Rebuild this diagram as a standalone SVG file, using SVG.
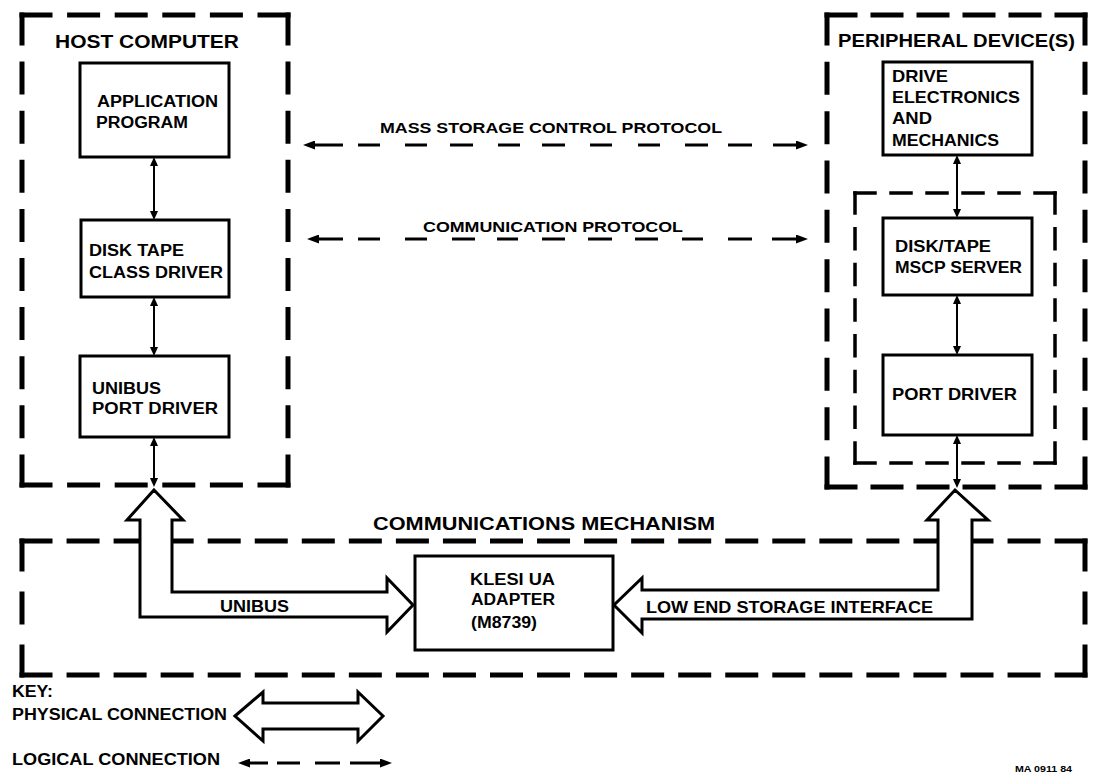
<svg xmlns="http://www.w3.org/2000/svg" width="1094" height="783" viewBox="0 0 1094 783">
<style>
.t{font-family:"Liberation Sans",Arial,sans-serif;font-weight:bold;fill:#000}
.box{fill:#fff;stroke:#000;stroke-width:3}
.d5{fill:none;stroke:#000;stroke-width:5;stroke-linecap:square}
.d3{fill:none;stroke:#000;stroke-width:3.5;stroke-linecap:square}
.conn{fill:none;stroke:#000;stroke-width:2;marker-start:url(#sa);marker-end:url(#sa)}
.logic{fill:none;stroke:#000;stroke-width:3;marker-start:url(#la);marker-end:url(#la)}
.hollow{fill:#fff;stroke:#000;stroke-width:3;stroke-linejoin:miter}
</style>
<defs>
<marker id="sa" viewBox="0 0 9 8" refX="2" refY="4" markerWidth="9" markerHeight="8" markerUnits="userSpaceOnUse" orient="auto-start-reverse"><path d="M0,0 L9,4 L0,8 z" fill="#000"/></marker>
<marker id="la" viewBox="0 0 12 9" refX="2" refY="4.5" markerWidth="12" markerHeight="9" markerUnits="userSpaceOnUse" orient="auto-start-reverse"><path d="M0,0 L12,4.5 L0,9 z" fill="#000"/></marker>
</defs>
<rect width="1094" height="783" fill="#fff"/>

<g id="host-computer">
<line class="d5" x1="22" y1="15" x2="288" y2="15" stroke-dasharray="28 19.6"/>
<line class="d5" x1="22" y1="485" x2="288" y2="485" stroke-dasharray="28 19.6"/>
<line class="d5" x1="22" y1="15" x2="22" y2="485" stroke-dasharray="28 21.1"/>
<line class="d5" x1="288" y1="15" x2="288" y2="485" stroke-dasharray="28 21.1"/>
<text class="t" x="55" y="48" font-size="18" textLength="184" lengthAdjust="spacingAndGlyphs">HOST COMPUTER</text>
</g>
<g id="application-program">
<rect class="box" x="80" y="63" width="149" height="94"/>
<text class="t" x="97" y="107" font-size="16" textLength="121" lengthAdjust="spacingAndGlyphs">APPLICATION</text>
<text class="t" x="96" y="128" font-size="16" textLength="92" lengthAdjust="spacingAndGlyphs">PROGRAM</text>
</g>
<g id="class-driver">
<rect class="box" x="81" y="220" width="148" height="77"/>
<text class="t" x="89" y="256" font-size="16" textLength="95" lengthAdjust="spacingAndGlyphs">DISK TAPE</text>
<text class="t" x="89" y="278" font-size="16" textLength="134" lengthAdjust="spacingAndGlyphs">CLASS DRIVER</text>
</g>
<g id="unibus-port-driver">
<rect class="box" x="80" y="356" width="149" height="81"/>
<text class="t" x="92" y="394" font-size="16" textLength="69" lengthAdjust="spacingAndGlyphs">UNIBUS</text>
<text class="t" x="92" y="414" font-size="16" textLength="126" lengthAdjust="spacingAndGlyphs">PORT DRIVER</text>
</g>

<g id="peripheral-devices">
<line class="d5" x1="827" y1="15" x2="1085" y2="15" stroke-dasharray="28 18"/>
<line class="d5" x1="827" y1="487" x2="1085" y2="487" stroke-dasharray="28 18"/>
<line class="d5" x1="827" y1="15" x2="827" y2="487" stroke-dasharray="28 21.33"/>
<line class="d5" x1="1085" y1="15" x2="1085" y2="487" stroke-dasharray="28 21.33"/>
<text class="t" x="838" y="47" font-size="18" textLength="237" lengthAdjust="spacingAndGlyphs">PERIPHERAL DEVICE(S)</text>
</g>
<g id="drive-electronics">
<rect class="box" x="883" y="62" width="149" height="93"/>
<text class="t" x="892" y="82" font-size="16.5" textLength="56" lengthAdjust="spacingAndGlyphs">DRIVE</text>
<text class="t" x="892" y="103" font-size="16.5" textLength="128" lengthAdjust="spacingAndGlyphs">ELECTRONICS</text>
<text class="t" x="892" y="124" font-size="16.5" textLength="40" lengthAdjust="spacingAndGlyphs">AND</text>
<text class="t" x="892" y="146" font-size="16.5" textLength="107" lengthAdjust="spacingAndGlyphs">MECHANICS</text>
</g>
<g id="controller-group">
<line class="d3" x1="855" y1="193" x2="1055" y2="193" stroke-dasharray="20 16"/>
<line class="d3" x1="855" y1="463" x2="1055" y2="463" stroke-dasharray="20 16"/>
<line class="d3" x1="855" y1="193" x2="855" y2="463" stroke-dasharray="20 15.7"/>
<line class="d3" x1="1055" y1="193" x2="1055" y2="463" stroke-dasharray="20 15.7"/>
</g>
<g id="mscp-server">
<rect class="box" x="883" y="218" width="149" height="77"/>
<text class="t" x="895" y="252" font-size="16" textLength="96" lengthAdjust="spacingAndGlyphs">DISK/TAPE</text>
<text class="t" x="895" y="273" font-size="16" textLength="127" lengthAdjust="spacingAndGlyphs">MSCP SERVER</text>
</g>
<g id="port-driver">
<rect class="box" x="883" y="355" width="149" height="80"/>
<text class="t" x="892" y="400" font-size="16.5" textLength="125" lengthAdjust="spacingAndGlyphs">PORT DRIVER</text>
</g>

<g id="communications-mechanism">
<line class="d5" x1="22" y1="541" x2="1085" y2="541" stroke-dasharray="28 19.05"/>
<line class="d5" x1="22" y1="675" x2="1085" y2="675" stroke-dasharray="28 19.05"/>
<line class="d5" x1="22" y1="541" x2="22" y2="675" stroke-dasharray="28 25"/>
<line class="d5" x1="1085" y1="541" x2="1085" y2="675" stroke-dasharray="28 25"/>
<text class="t" x="373" y="530" font-size="19" textLength="342" lengthAdjust="spacingAndGlyphs">COMMUNICATIONS MECHANISM</text>
</g>
<g id="klesi-adapter">
<rect class="box" x="415" y="556" width="198" height="94"/>
<text class="t" x="470" y="585" font-size="16" textLength="85" lengthAdjust="spacingAndGlyphs">KLESI UA</text>
<text class="t" x="471" y="605" font-size="16" textLength="84" lengthAdjust="spacingAndGlyphs">ADAPTER</text>
<text class="t" x="471" y="628" font-size="16" textLength="66" lengthAdjust="spacingAndGlyphs">(M8739)</text>
</g>

<g id="connectors">
<path class="conn" d="M154 164 V213"/>
<path class="conn" d="M154 304 V349"/>
<path class="conn" d="M154 444 V480"/>
<path class="conn" d="M957 162 V211"/>
<path class="conn" d="M957 302 V348"/>
<path class="conn" d="M957 442 V481"/>
<path class="logic" d="M313 145 H343 M358 145 H380 M405 145 H427 M450 145 H473 M498 145 H520 M542 145 H565 M590 145 H612 M638 145 H660 M685 145 H708 M728 145 H752 M773 145 H798"/>
<text class="t" x="380" y="133" font-size="15.5" textLength="342" lengthAdjust="spacingAndGlyphs">MASS STORAGE CONTROL PROTOCOL</text>
<path class="logic" d="M317 239 H343 M358 239 H380 M405 239 H427 M452 239 H475 M497 239 H518 M542 239 H565 M588 239 H612 M635 239 H658 M682 239 H703 M728 239 H752 M772 239 H798"/>
<text class="t" x="423" y="232" font-size="15.5" textLength="260" lengthAdjust="spacingAndGlyphs">COMMUNICATION PROTOCOL</text>
<polygon class="hollow" points="154,490 183,520 172,520 172,592 387,592 387,578 413,605 387,632 387,617 140,617 140,520 127,520"/>
<text class="t" x="220" y="612" font-size="16" textLength="69" lengthAdjust="spacingAndGlyphs">UNIBUS</text>
<polygon class="hollow" points="955,490 988,520 972,520 972,619 642,619 642,633 614,605 642,578 642,590 938,590 938,520 927,520"/>
<text class="t" x="646" y="613" font-size="17" textLength="287" lengthAdjust="spacingAndGlyphs">LOW END STORAGE INTERFACE</text>
</g>

<g id="key">
<text class="t" x="12" y="697" font-size="16" textLength="41" lengthAdjust="spacingAndGlyphs">KEY:</text>
<text class="t" x="12" y="720" font-size="16" textLength="215" lengthAdjust="spacingAndGlyphs">PHYSICAL CONNECTION</text>
<polygon class="hollow" points="235,716 263,692 263,703 358,703 358,692 383,716 358,741 358,729 263,729 263,741"/>
<text class="t" x="12" y="765" font-size="16" textLength="208" lengthAdjust="spacingAndGlyphs">LOGICAL CONNECTION</text>
<path class="logic" d="M248 763 H268 M277 763 H300 M315 763 H340 M350 763 H382"/>
</g>
<text class="t" x="1015" y="772" font-size="9" textLength="57" lengthAdjust="spacingAndGlyphs">MA 0911 84</text>
</svg>
